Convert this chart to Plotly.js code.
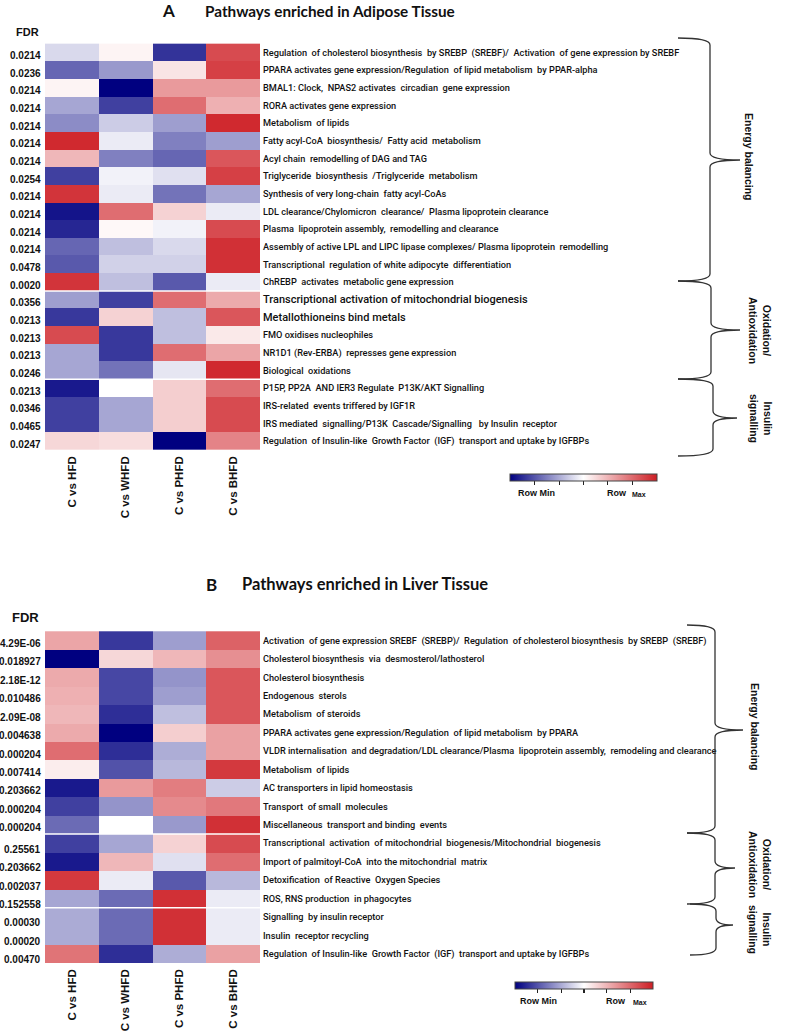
<!DOCTYPE html>
<html>
<head>
<meta charset="utf-8">
<script src="https://cdn.plot.ly/plotly-3.0.1.min.js"></script>
<style>html,body{margin:0;padding:0;background:#fff;}#chart{width:800px;height:1031px;}</style>
</head>
<body>
<div id="chart"></div>
<script>
// ---------- DATA ----------
const columns = ['C vs HFD', 'C vs WHFD', 'C vs PHFD', 'C vs BHFD'];

const pathwaysA = [
  'Regulation  of cholesterol biosynthesis  by SREBP  (SREBF)/  Activation  of gene expression by SREBF',
  'PPARA activates gene expression/Regulation  of lipid metabolism  by PPAR-alpha',
  'BMAL1: Clock,  NPAS2 activates  circadian  gene expression',
  'RORA activates gene expression',
  'Metabolism  of lipids',
  'Fatty acyl-CoA  biosynthesis/  Fatty acid  metabolism',
  'Acyl chain  remodelling of DAG and TAG',
  'Triglyceride  biosynthesis  /Triglyceride  metabolism',
  'Synthesis of very long-chain  fatty acyl-CoAs',
  'LDL clearance/Chylomicron  clearance/  Plasma lipoprotein clearance',
  'Plasma  lipoprotein assembly,  remodelling and clearance',
  'Assembly of active LPL and LIPC lipase complexes/ Plasma lipoprotein  remodelling',
  'Transcriptional  regulation of white adipocyte  differentiation',
  'ChREBP  activates  metabolic gene expression',
  'Transcriptional activation of mitochondrial biogenesis',
  'Metallothioneins bind metals',
  'FMO oxidises nucleophiles',
  'NR1D1 (Rev-ERBA)  represses gene expression',
  'Biological  oxidations',
  'P15P, PP2A  AND IER3 Regulate  P13K/AKT Signalling',
  'IRS-related  events triffered by IGF1R',
  'IRS mediated  signalling/P13K  Cascade/Signalling   by Insulin  receptor',
  'Regulation  of Insulin-like  Growth Factor  (IGF)  transport and uptake by IGFBPs'
];
const fdrA = ['0.0214','0.0236','0.0214','0.0214','0.0214','0.0214','0.0214','0.0254','0.0214','0.0214','0.0214','0.0214','0.0478','0.0020','0.0356','0.0213','0.0213','0.0213','0.0246','0.0213','0.0346','0.0465','0.0247'];
const hfdA  = [-0.15,-0.6,0.05,-0.35,-0.45,0.95,0.32,-0.75,0.9,-0.92,-0.85,-0.6,-0.65,0.9,-0.38,-0.78,0.8,-0.35,-0.35,-0.9,-0.75,-0.75,0.18];
const whfdA = [0.05,-0.4,-1.0,-0.75,-0.2,-0.08,-0.5,-0.05,-0.08,0.65,0.03,-0.25,-0.18,-0.25,-0.75,0.2,-0.78,-0.78,-0.55,0.0,-0.35,-0.35,0.15];
const phfdA = [-0.8,0.12,0.45,0.65,-0.38,-0.5,-0.6,-0.12,-0.55,0.2,-0.05,-0.15,-0.18,-0.65,0.65,-0.25,-0.25,0.65,-0.1,0.22,0.22,0.22,-1.0];
const bhfdA = [0.8,0.85,0.45,0.35,0.95,-0.38,0.75,0.85,-0.35,-0.08,0.8,0.92,0.92,-0.08,0.38,0.75,0.1,0.4,0.95,0.65,0.8,0.8,0.55];
const groupsA = [14, 5, 4];
const largeLabelRowsA = [14, 15];

const pathwaysB = [
  'Activation  of gene expression SREBF  (SREBP)/  Regulation  of cholesterol biosynthesis  by SREBP  (SREBF)',
  'Cholesterol biosynthesis  via  desmosterol/lathosterol',
  'Cholesterol biosynthesis',
  'Endogenous  sterols',
  'Metabolism  of steroids',
  'PPARA activates gene expression/Regulation  of lipid metabolism  by PPARA',
  'VLDR internalisation  and degradation/LDL clearance/Plasma  lipoprotein assembly,  remodeling and clearance',
  'Metabolism  of lipids',
  'AC transporters in lipid homeostasis',
  'Transport  of small  molecules',
  'Miscellaneous  transport and binding  events',
  'Transcriptional  activation  of mitochondrial  biogenesis/Mitochondrial  biogenesis',
  'Import of palmitoyl-CoA  into the mitochondrial  matrix',
  'Detoxification  of Reactive  Oxygen Species',
  'ROS, RNS production  in phagocytes',
  'Signalling  by insulin receptor',
  'Insulin  receptor recycling',
  'Regulation  of Insulin-like  Growth Factor  (IGF)  transport and uptake by IGFBPs'
];
const fdrB = ['4.29E-06','0.018927','2.18E-12','0.010486','2.09E-08','0.004638','0.000204','0.007414','0.203662','0.000204','0.000204','0.25561','0.203662','0.002037','0.152558','0.00030','0.00020','0.00470'];
const hfdB  = [0.4,-1.0,0.38,0.35,0.32,0.38,0.65,0.08,-0.9,-0.75,-0.58,-0.75,-0.9,0.88,-0.35,-0.33,-0.33,0.62];
const whfdB = [-0.78,0.18,-0.72,-0.72,-0.82,-1.0,-0.82,-0.68,0.45,-0.42,0.0,-0.35,0.32,-0.08,-0.58,-0.58,-0.58,-0.82];
const phfdB = [-0.38,0.32,-0.42,-0.38,-0.25,0.22,-0.32,-0.28,0.58,0.52,-0.4,0.2,-0.12,-0.65,0.92,0.92,0.92,-0.32];
const bhfdB = [0.7,0.5,0.75,0.75,0.75,0.42,0.42,0.88,-0.2,0.6,0.92,0.8,0.65,-0.28,-0.08,-0.08,-0.08,0.42];
const groupsB = [11, 4, 3];

const groupLabels = ['Energy balancing', 'Oxidation/<br>Antioxidation', 'Insulin<br>signalling'];
const scaleLabels = ['Row Min', 'Row', 'Max'];

// ---------- HELPERS ----------
const W = 800, H = 1031;
const px = x => x / W;
const py = y => 1 - y / H;
const zRows = (a, b, c, d) => a.map((v, i) => [a[i], b[i], c[i], d[i]]);

const cscale = [[0, 'rgb(0,0,128)'], [0.5, 'rgb(255,255,255)'], [1, 'rgb(205,30,36)']];
const labelFont = {family: 'Roboto, "Liberation Sans", sans-serif', size: 9.2, color: '#111', weight: 500};
const boldSans = {family: '"Liberation Sans", Arial, sans-serif', color: '#111', weight: 'bold'};

function heat(z, names, xa, ya, cbx, cby, cblen) {
  return {
    type: 'heatmap', x: columns, y: names.map((n, i) => i), z: z,
    xaxis: xa, yaxis: ya, zmin: -1, zmax: 1, colorscale: cscale,
    hoverinfo: 'skip',
    colorbar: {
      orientation: 'h', x: px(cbx), xanchor: 'left', y: py(cby), yanchor: 'top',
      len: cblen, lenmode: 'pixels', thickness: 7, thicknessmode: 'pixels',
      xpad: 0, ypad: 0, outlinewidth: 1, outlinecolor: '#444',
      ticks: 'outside', ticklen: 4, tickwidth: 1.3, tickcolor: '#222',
      tickvals: [-0.67, -0.33, 0, 0.33, 0.67], showticklabels: false
    }
  };
}

const traces = [
  heat(zRows(hfdA, whfdA, phfdA, bhfdA), pathwaysA, 'x', 'y', 510, 474, 147),
  heat(zRows(hfdB, whfdB, phfdB, bhfdB), pathwaysB, 'x2', 'y2', 515, 982, 138)
];

function yAxis(domTop, domBot, names, anchor, large) {
  return {
    domain: [py(domBot), py(domTop)], anchor: anchor, side: 'right',
    autorange: 'reversed', showgrid: false, zeroline: false, showline: false,
    ticks: '', tickvals: names.map((n, i) => i),
    ticktext: names.map((n, i) => (large || []).includes(i) ? '<span style="font-size:11px">' + n + '</span>' : n),
    tickfont: labelFont, ticklabelstandoff: 2
  };
}
function xAxis(anchor) {
  return {
    domain: [px(45), px(260)], anchor: anchor, showgrid: false, zeroline: false,
    showline: false, ticks: '', tickangle: -90,
    tickfont: Object.assign({size: 11.5}, boldSans), ticklabelstandoff: 3
  };
}

const annotations = [];
const shapes = [];

function addText(text, x, y, opts) {
  annotations.push(Object.assign({
    text: text, x: px(x), y: py(y), xref: 'paper', yref: 'paper',
    showarrow: false, xanchor: 'center', yanchor: 'middle',
    font: Object.assign({size: 11}, boldSans)
  }, opts || {}));
}

// titles
addText('A', 168, 11, {font: {family: 'Lato, "Liberation Sans", sans-serif', size: 17, weight: 'bold', color: '#111'}});
addText('Pathways enriched in Adipose Tissue', 203, 11, {xanchor: 'left', font: {family: 'Lato, "Liberation Sans", sans-serif', size: 15.3, weight: 'bold', color: '#111'}});
addText('B', 211, 584, {font: {family: 'Lato, "Liberation Sans", sans-serif', size: 17, weight: 'bold', color: '#111'}});
addText('Pathways enriched in Liver Tissue', 240, 584, {xanchor: 'left', font: {family: 'Lato, "Liberation Sans", sans-serif', size: 16.5, weight: 'bold', color: '#111'}});
addText('FDR', 27, 32, {font: Object.assign({size: 11}, boldSans)});
addText('FDR', 25, 617, {font: Object.assign({size: 13}, boldSans)});

// FDR values
fdrA.forEach((t, i) => annotations.push({
  text: t, x: px(43), xref: 'paper', y: i, yref: 'y', yshift: -3,
  showarrow: false, xanchor: 'right', yanchor: 'middle',
  font: Object.assign({size: 10}, boldSans)
}));
fdrB.forEach((t, i) => annotations.push({
  text: t, x: px(43), xref: 'paper', y: i, yref: 'y2', yshift: i >= 11 ? -6 : -3,
  showarrow: false, xanchor: 'right', yanchor: 'middle',
  font: Object.assign({size: 10}, boldSans)
}));

// group separators
function separators(groups, xr, yr) {
  let acc = 0;
  groups.slice(0, -1).forEach(g => {
    acc += g;
    shapes.push({type: 'line', xref: xr + ' domain', yref: yr, x0: 0, x1: 1,
      y0: acc - 0.5, y1: acc - 0.5, line: {color: '#fff', width: 1.5}});
  });
}
separators(groupsA, 'x', 'y');
separators(groupsB, 'x2', 'y2');

// curly braces
function brace(x0, xv, tip, yTop, yMid, yBot) {
  const r = 7;
  const P = (x, y) => px(x).toFixed(5) + ',' + py(y).toFixed(5);
  const path = 'M' + P(x0, yTop) + ' Q' + P(xv, yTop) + ' ' + P(xv, yTop + r) +
    ' L' + P(xv, yMid - r) + ' Q' + P(xv, yMid) + ' ' + P(tip, yMid) +
    ' Q' + P(xv, yMid) + ' ' + P(xv, yMid + r) +
    ' L' + P(xv, yBot - r) + ' Q' + P(xv, yBot) + ' ' + P(x0, yBot);
  shapes.push({type: 'path', xref: 'paper', yref: 'paper', path: path,
    line: {color: '#333', width: 1.3}});
}
brace(678, 710, 740, 38, 160, 281);
brace(678, 711, 740, 281, 330, 379);
brace(678, 713, 737, 379, 418, 456);
brace(687, 715, 743, 625, 730, 833);
brace(687, 715, 735, 833, 868, 904);
brace(690, 716, 733, 904, 925, 955);

const grpFont = Object.assign({size: 10.5}, boldSans);
addText(groupLabels[0], 749, 157, {textangle: 90, font: grpFont});
addText(groupLabels[1], 760, 330, {textangle: 90, font: grpFont});
addText(groupLabels[2], 761, 418, {textangle: 90, font: grpFont});
addText(groupLabels[0], 755, 727, {textangle: 90, font: grpFont});
addText(groupLabels[1], 760, 864, {textangle: 90, font: grpFont});
addText(groupLabels[2], 760, 929, {textangle: 90, font: grpFont});

// colour scale labels
const slFont = Object.assign({size: 9}, boldSans);
const slSmall = Object.assign({size: 7}, boldSans);
addText(scaleLabels[0], 536, 493, {font: slFont});
addText(scaleLabels[1], 617, 493, {font: slFont});
addText(scaleLabels[2], 639, 494, {font: slSmall});
addText(scaleLabels[0], 538, 1001, {font: slFont});
addText(scaleLabels[1], 616, 1001, {font: slFont});
addText(scaleLabels[2], 640, 1002, {font: slSmall});

const layout = {
  width: W, height: H, margin: {l: 0, r: 0, t: 0, b: 0},
  paper_bgcolor: '#fff', plot_bgcolor: '#fff', showlegend: false,
  xaxis: xAxis('y'), yaxis: yAxis(42, 450, pathwaysA, 'x', largeLabelRowsA),
  xaxis2: xAxis('y2'), yaxis2: yAxis(630, 963, pathwaysB, 'x2'),
  annotations: annotations, shapes: shapes
};

Plotly.newPlot('chart', traces, layout, {displayModeBar: false, staticPlot: true});
</script>
</body>
</html>
